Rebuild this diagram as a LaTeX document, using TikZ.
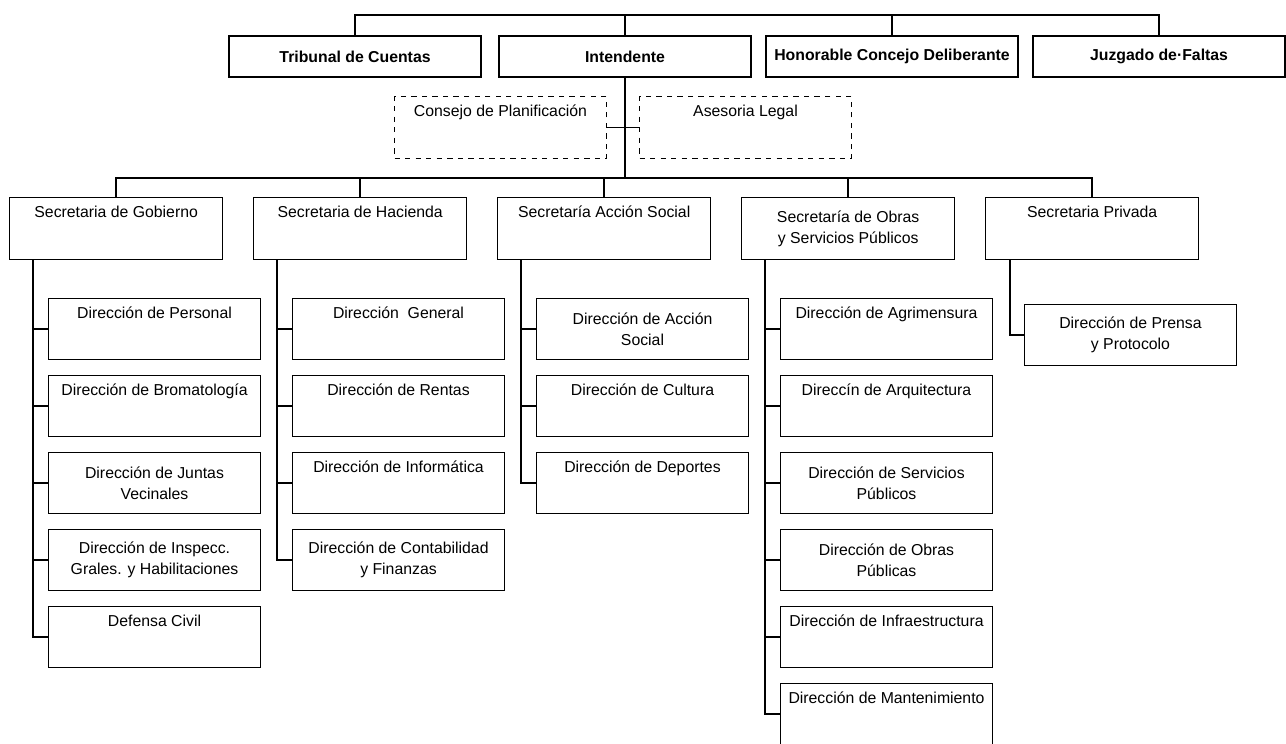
\documentclass[tikz,border=0pt]{standalone}
\usepackage{fontspec}
\setmainfont{Liberation Sans}
\usepackage{tikz}
\usetikzlibrary{positioning}
\newcommand{\orgfont}{\fontsize{9}{12}\selectfont}

\begin{document}
\begin{tikzpicture}[
  x=0.02cm,y=-0.02cm,
  topbox/.style={draw,line width=1.2pt,anchor=north west,align=center,
                 minimum width=5.04cm,minimum height=0.82cm,
                 inner sep=2pt,font=\orgfont\bfseries},
  advbox/.style={draw,dashed,line width=0.6pt,anchor=north west,align=center,
                 minimum width=4.24cm,minimum height=1.24cm,
                 inner sep=2pt,font=\orgfont},
  secbox/.style={draw,line width=0.8pt,anchor=north west,align=center,
                 minimum width=4.26cm,minimum height=1.24cm,
                 inner sep=2pt,font=\orgfont},
  dirbox/.style={draw,line width=0.6pt,anchor=north west,align=center,
                 minimum width=4.24cm,minimum height=1.22cm,
                 inner sep=2pt,font=\orgfont},
  oneline/.style={text height=0.32cm,text depth=0.76cm},
  link/.style={line width=1.1pt}
]
\useasboundingbox (0,0) rectangle (1286,744);
\coordinate (topbar) at (0,15);
\coordinate (secbar) at (0,178);

% Top level
\node[topbox] (tribunal) at (228,35) {Tribunal de Cuentas};
\node[topbox] (intendente) at (498,35) {Intendente};
\node[topbox] (honorable) at (765,35) {Honorable Concejo Deliberante};
\node[topbox] (juzgado) at (1032,35) {Juzgado de·Faltas};

\draw[link] (tribunal.north) |- (juzgado.north |- topbar) -- (juzgado.north);
\draw[link] (intendente.north) -- (intendente.north |- topbar);
\draw[link] (honorable.north) -- (honorable.north |- topbar);

% Advisory bodies
\node[advbox,oneline] (consejo) at (394,96) {Consejo de Planificación};
\node[advbox,oneline] (asesoria) at (639,96) {Asesoria Legal};

\draw[link] (intendente.south) -- (intendente.south |- secbar);
\draw[link] (consejo.east) -- (asesoria.west);

% Secretarias
\node[secbox,oneline] (gob) at (9,197) {Secretaria de Gobierno};
\node[secbox,oneline] (hac) at (253,197) {Secretaria de Hacienda};
\node[secbox,oneline] (acc) at (497,197) {Secretaría Acción Social};
\node[secbox] (obr) at (741,197) {Secretaría de Obras\\y Servicios Públicos};
\node[secbox,oneline] (pri) at (985,197) {Secretaria Privada};

\draw[link] (gob.north) |- (pri.north |- secbar) -- (pri.north);
\draw[link] (hac.north) -- (hac.north |- secbar);
\draw[link] (acc.north) -- (acc.north |- secbar);
\draw[link] (obr.north) -- (obr.north |- secbar);

% Direcciones de Gobierno
\node[dirbox,oneline] (gob1) at (48,298) {Dirección de Personal};
\node[dirbox,oneline] (gob2) at (48,375) {Dirección de Bromatología};
\node[dirbox] (gob3) at (48,452) {Dirección de Juntas\\Vecinales};
\node[dirbox] (gob4) at (48,529) {Dirección de Inspecc.\\Grales. y Habilitaciones};
\node[dirbox,oneline] (gob5) at (48,606) {Defensa Civil};

\draw[link] ([xshift=0.48cm]gob.south west) |- (gob1.west);
\draw[link] ([xshift=0.48cm]gob.south west) |- (gob2.west);
\draw[link] ([xshift=0.48cm]gob.south west) |- (gob3.west);
\draw[link] ([xshift=0.48cm]gob.south west) |- (gob4.west);
\draw[link] ([xshift=0.48cm]gob.south west) |- (gob5.west);

% Direcciones de Hacienda
\node[dirbox,oneline] (hac1) at (292,298) {Dirección\ \ General};
\node[dirbox,oneline] (hac2) at (292,375) {Dirección de Rentas};
\node[dirbox,oneline] (hac3) at (292,452) {Dirección de Informática};
\node[dirbox] (hac4) at (292,529) {Dirección de Contabilidad\\y Finanzas};

\draw[link] ([xshift=0.48cm]hac.south west) |- (hac1.west);
\draw[link] ([xshift=0.48cm]hac.south west) |- (hac2.west);
\draw[link] ([xshift=0.48cm]hac.south west) |- (hac3.west);
\draw[link] ([xshift=0.48cm]hac.south west) |- (hac4.west);

% Direcciones de Accion Social
\node[dirbox] (acc1) at (536,298) {Dirección de Acción\\Social};
\node[dirbox,oneline] (acc2) at (536,375) {Dirección de Cultura};
\node[dirbox,oneline] (acc3) at (536,452) {Dirección de Deportes};

\draw[link] ([xshift=0.48cm]acc.south west) |- (acc1.west);
\draw[link] ([xshift=0.48cm]acc.south west) |- (acc2.west);
\draw[link] ([xshift=0.48cm]acc.south west) |- (acc3.west);

% Direcciones de Obras y Servicios
\node[dirbox,oneline] (obr1) at (780,298) {Dirección de Agrimensura};
\node[dirbox,oneline] (obr2) at (780,375) {Direccín de Arquitectura};
\node[dirbox] (obr3) at (780,452) {Dirección de Servicios\\Públicos};
\node[dirbox] (obr4) at (780,529) {Dirección de Obras\\Públicas};
\node[dirbox,oneline] (obr5) at (780,606) {Dirección de Infraestructura};
\node[dirbox,oneline] (obr6) at (780,683) {Dirección de Mantenimiento};

\draw[link] ([xshift=0.48cm]obr.south west) |- (obr1.west);
\draw[link] ([xshift=0.48cm]obr.south west) |- (obr2.west);
\draw[link] ([xshift=0.48cm]obr.south west) |- (obr3.west);
\draw[link] ([xshift=0.48cm]obr.south west) |- (obr4.west);
\draw[link] ([xshift=0.48cm]obr.south west) |- (obr5.west);
\draw[link] ([xshift=0.48cm]obr.south west) |- (obr6.west);

% Direccion de Secretaria Privada
\node[dirbox] (pri1) at (1024,304) {Dirección de Prensa\\y Protocolo};

\draw[link] ([xshift=0.5cm]pri.south west) |- (pri1.west);
\end{tikzpicture}
\end{document}
